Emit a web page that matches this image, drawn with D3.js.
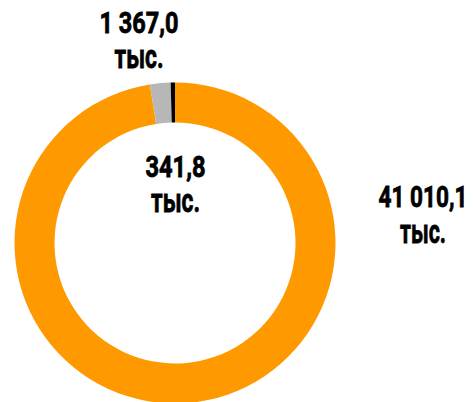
<!DOCTYPE html>
<html>
<head>
<meta charset="utf-8">
<script src="https://cdn.jsdelivr.net/npm/d3@7"></script>
<style>
  html, body { margin: 0; padding: 0; background: #fff; }
  text { font-family: Roboto, "Liberation Sans", sans-serif; font-weight: 700; fill: #000; stroke: #000; stroke-width: 0.8px; }
</style>
</head>
<body>
<div id="chart"></div>
<script>
// slice names, labels, colours
var categories = ["orange", "gray", "black"];
var labels = ["41 010,1", "1 367,0", "341,8"];
var unit = "тыс.";
// share of the ring (percent) as measured on the picture
var shares = [97.5, 2.07, 0.43];
var colors = ["#ff9900", "#b7b7b7", "#000000"];

var width = 473, height = 402;
var cx = 175, cy = 243;
var outerR = 160.5, innerR = 120.5;

// label placement for each slice (x centre, number baseline, widths of both lines)
var labelPos = [
    { x: 423, y: 207, w: 89, wu: 46 },
    { x: 139, y: 32.5, w: 79, wu: 49 },
    { x: 175.5, y: 176.5, w: 60, wu: 49 }
];

var svg = d3.select("#chart")
    .append("svg")
    .attr("width", width)
    .attr("height", height);

var pie = d3.pie().sort(null).value(function (d) { return d; });
var arc = d3.arc().innerRadius(innerR).outerRadius(outerR);

var g = svg.append("g").attr("transform", "translate(" + cx + "," + cy + ")");

g.selectAll("path")
    .data(pie(shares))
    .enter()
    .append("path")
    .attr("d", arc)
    .attr("fill", function (d, i) { return colors[i]; });

//labels: number line and unit line, squeezed horizontally to look condensed
var lab = svg.selectAll("g.lab")
    .data(categories)
    .enter()
    .append("g")
    .attr("class", "lab")
    .attr("transform", function (d, i) { return "translate(" + labelPos[i].x + "," + labelPos[i].y + ")"; });

function squeeze(sel, target) {
    sel.each(function (d, i) {
        var len = this.getComputedTextLength();
        d3.select(this).attr("transform", "scale(" + (target(i) / len) + ",1)");
    });
}

lab.append("text")
    .attr("text-anchor", "middle")
    .attr("font-size", "30px")
    .text(function (d, i) { return labels[i]; })
    .call(squeeze, function (i) { return labelPos[i].w; });

lab.append("text")
    .attr("text-anchor", "middle")
    .attr("font-size", "34px")
    .attr("y", 36)
    .text(unit)
    .call(squeeze, function (i) { return labelPos[i].wu; });
</script>
</body>
</html>
